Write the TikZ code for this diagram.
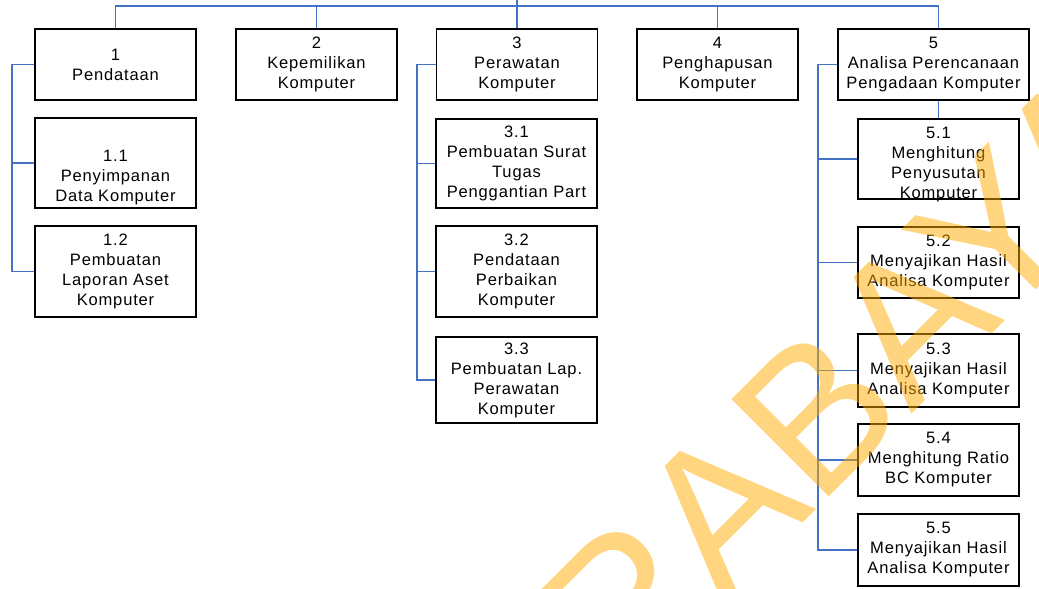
\documentclass[tikz,border=0pt]{standalone}
\usepackage{fontspec}
\setmainfont{Liberation Sans}
\newfontfamily\boxfont[LetterSpace=5]{Liberation Sans}
\newfontfamily\markfont{Liberation Sans}
\definecolor{linkblue}{HTML}{4472C4}
\definecolor{markyellow}{HTML}{FFAB00}
\tikzset{
  box/.style={draw=black, line width=1.4pt, fill=white, inner sep=0pt,
    align=center, minimum width=120.75pt,
    font=\boxfont\fontsize{12.4pt}{15pt}\selectfont,
    execute at begin node={\rule{0pt}{12pt}}},
  widebox/.style={box, minimum width=143.25pt},
  link/.style={draw=linkblue, line width=1.3pt}
}
\begin{document}
\begin{tikzpicture}[x=0.75pt, y=-0.75pt]
\useasboundingbox (0,0) rectangle (1039,589);

% top level
\node[box, minimum height=53.25pt] (n1) at (115.5,64.5) {1\\Pendataan};
\node[box, minimum height=53.25pt] (n2) at (316.5,64.5) {2\\Kepemilikan\\Komputer};
\node[box, minimum height=53.25pt] (n3) at (517,64.5) {3\\Perawatan\\Komputer};
\node[box, minimum height=53.25pt] (n4) at (717.5,64.5) {4\\Penghapusan\\Komputer};
\node[widebox, minimum height=53.25pt] (n5) at (933.5,64.5) {5\\Analisa Perencanaan\\Pengadaan Komputer};

% branch 1
\node[box, minimum height=67.5pt] (n11) at (115.5,163) {\strut\\[5pt]1.1\\Penyimpanan\\Data Komputer};
\node[box, minimum height=68.25pt] (n12) at (115.5,271.5) {1.2\\Pembuatan\\Laporan Aset\\Komputer};

% branch 3
\node[box, minimum height=66.75pt] (n31) at (516.5,163.5) {3.1\\Pembuatan Surat\\Tugas\\Penggantian Part};
\node[box, minimum height=68.25pt] (n32) at (516.5,271.5) {3.2\\Pendataan\\Perbaikan\\Komputer};
\node[box, minimum height=64.5pt] (n33) at (516.5,380) {3.3\\Pembuatan Lap.\\Perawatan\\Komputer};

% branch 5
\node[box, minimum height=60pt, text depth=0pt] (n51) at (938.5,159) {\rule{0pt}{14.5pt}5.1\\Menghitung\\Penyusutan\\Komputer};
\node[box, minimum height=53.25pt] (n52) at (938.5,262.5) {5.2\\Menyajikan Hasil\\Analisa Komputer};
\node[box, minimum height=54.75pt] (n53) at (938.5,370.5) {5.3\\Menyajikan Hasil\\Analisa Komputer};
\node[box, minimum height=54pt] (n54) at (938.5,460) {5.4\\Menghitung Ratio\\BC Komputer};
\node[box, minimum height=54pt] (n55) at (938.5,550) {5.5\\Menyajikan Hasil\\Analisa Komputer};

% bus and spines
\coordinate (top) at (517,0);
\coordinate (bus) at (517,6);
\coordinate (s1) at (12,0);
\coordinate (s3) at (417,0);
\coordinate (s5) at (818,0);

\draw[link] (top) -- (n3.north);
\draw[link] (n1.north) |- (bus) -| (n51.north |- n5.north);
\draw[link] (n2.north) -- (n2.north |- bus);
\draw[link] (n4.north) -- (n4.north |- bus);
\draw[link] (n5.south -| n51.north) -- (n51.north);

\draw[link] (n1.west) -- (n1.west -| s1) |- (n12.west);
\draw[link] (n11.west -| s1) -- (n11.west);

\draw[link] (n3.west) -- (n3.west -| s3) |- (n33.west);
\draw[link] (n31.west -| s3) -- (n31.west);
\draw[link] (n32.west -| s3) -- (n32.west);

\draw[link] (n5.west) -- (n5.west -| s5) |- (n55.west);
\draw[link] (n51.west -| s5) -- (n51.west);
\draw[link] (n52.west -| s5) -- (n52.west);
\draw[link] (n53.west -| s5) -- (n53.west);
\draw[link] (n54.west -| s5) -- (n54.west);

% diagonal watermark lettering
\node[anchor=base west, rotate=45, inner sep=0pt, text=markyellow, text opacity=0.5,
  font=\markfont\fontsize{150pt}{150pt}\selectfont] (wm) at (424,902) {SURABAYA};
\end{tikzpicture}
\end{document}
